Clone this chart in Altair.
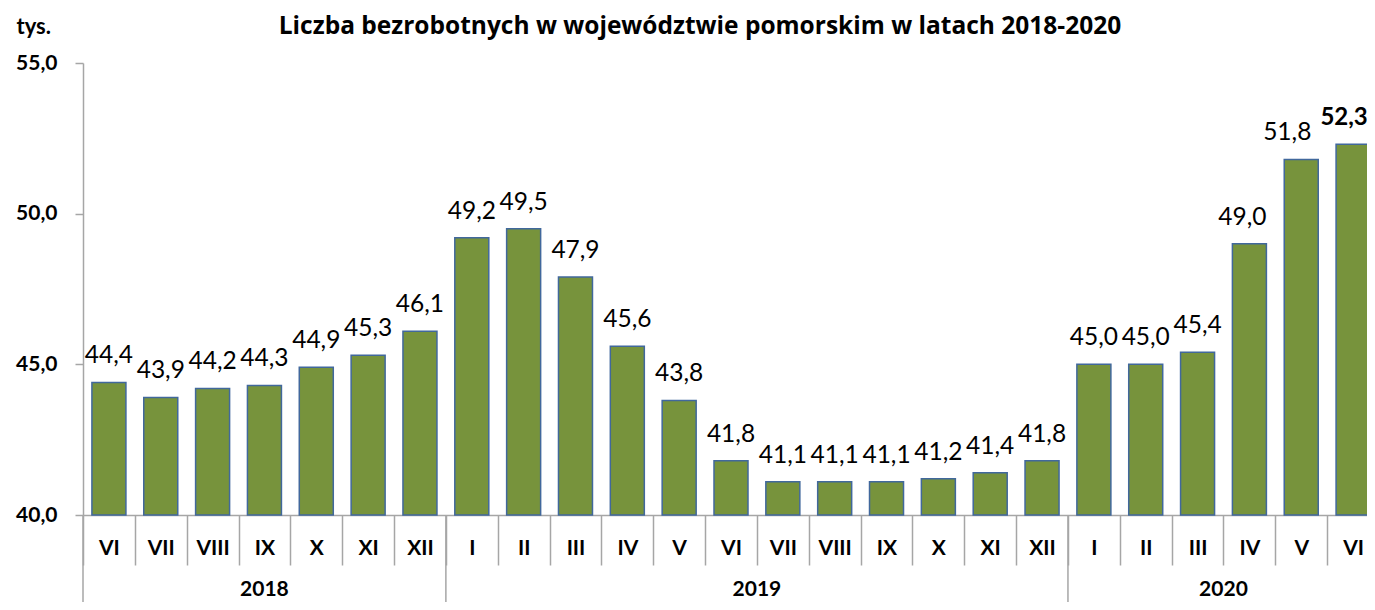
import altair as alt
import pandas as pd
import math

months = ["VI", "VII", "VIII", "IX", "X", "XI", "XII",
          "I", "II", "III", "IV", "V", "VI", "VII", "VIII", "IX", "X", "XI", "XII",
          "I", "II", "III", "IV", "V", "VI"]
years = ["2018"] * 7 + ["2019"] * 12 + ["2020"] * 6
values = [44.4, 43.9, 44.2, 44.3, 44.9, 45.3, 46.1,
          49.2, 49.5, 47.9, 45.6, 43.8, 41.8, 41.1, 41.1, 41.1, 41.2, 41.4, 41.8,
          45.0, 45.0, 45.4, 49.0, 51.8, 52.3]
y_ticks = [40, 45, 50, 55]
title_text = "Liczba bezrobotnych w województwie pomorskim w latach 2018-2020"
unit_text = "tys."

FONT = "Lato"
keys = [f"{m}-{y}" for m, y in zip(months, years)]

df = pd.DataFrame({
    "key": keys,
    "month": months,
    "year": years,
    "value": values,
    "label": [f"{v:.1f}".replace(".", ",") for v in values],
})

# year groups
year_list = []
for y in years:
    if y not in year_list:
        year_list.append(y)
yrows = []
for y in year_list:
    idx = [i for i, yy in enumerate(years) if yy == y]
    start, n = idx[0], len(idx)
    center = start + n / 2.0
    ci = int(math.floor(center))
    frac = center - ci
    yrows.append({"year": y, "first": keys[start], "center": keys[ci], "frac": frac})
ydf = pd.DataFrame(yrows)

xscale = alt.Scale(domain=keys, paddingInner=0, paddingOuter=0)
AX = "#A6A6A6"

x_enc = alt.X(
    "key:N", sort=keys, scale=xscale,
    axis=alt.Axis(
        title=None, labelExpr="split(datum.label, '-')[0]", tickBand="extent",
        tickSize=50, labelPadding=-17, labelBaseline="middle", labelAngle=0,
        labelFont=FONT, labelFontSize=21, labelFontWeight="bold", labelColor="black",
        domainColor=AX, tickColor=AX, domainWidth=1.5, tickWidth=1.5,
    ),
)
y_scale = alt.Scale(domain=[40, 55], zero=False, nice=False)
y_enc = alt.Y(
    "value:Q", scale=y_scale,
    axis=alt.Axis(
        values=y_ticks, grid=False,
        labelExpr="replace(format(datum.value, '.1f'), '.', ',')",
        tickSize=8, labelPadding=18,
        labelFont=FONT, labelFontSize=21, labelFontWeight="bold", labelColor="black",
        domainColor=AX, tickColor=AX, domainWidth=1.5, tickWidth=1.5,
        title=unit_text, titleAngle=0, titleX=-67, titleY=-37, titleAlign="left",
        titleBaseline="middle", titleFont=FONT, titleFontSize=22,
        titleFontWeight="bold", titleColor="black",
    ),
)

base = alt.Chart(df)
x_plain = alt.X("key:N", sort=keys, scale=xscale)
y_plain = alt.Y("value:Q", scale=y_scale)

bars = base.mark_bar(
    width=alt.RelativeBandSize(0.656), fill="#77933C", stroke="#41689C", strokeWidth=1.5
).encode(x=x_enc, y=y_enc, y2=alt.datum(40))

# labels that Excel nudged left near the right edge of the plot
nudged = {keys[-3]: (-7, "normal"), keys[-2]: (-14, "normal"), keys[-1]: (-9, "bold")}

labels = base.transform_filter(
    alt.FieldOneOfPredicate(field="key", oneOf=[k for k in keys if k not in nudged])
).mark_text(
    dy=-26, baseline="middle", font=FONT, fontSize=24.5, color="black"
).encode(x=x_plain, y=y_plain, text="label:N")

layers = [bars, labels]
for k, (ddx, fw) in nudged.items():
    layers.append(
        base.transform_filter(alt.datum.key == k).mark_text(
            dx=ddx, dy=-26, baseline="middle", font=FONT,
            fontSize=24.5 if fw == "normal" else 24, fontWeight=fw, color="black"
        ).encode(x=x_plain, y=y_plain, text="label:N")
    )

ybase = alt.Chart(ydf)
year_sep = ybase.mark_rule(color=AX, strokeWidth=1.5).encode(
    x=alt.X("first:N", sort=keys, scale=xscale, bandPosition=0),
    y=alt.value(452), y2=alt.value(560),
)
year_lab_half = ybase.transform_filter(alt.datum.frac > 0.25).mark_text(
    font=FONT, fontSize=21, fontWeight="bold", color="black", baseline="middle"
).encode(x=alt.X("center:N", sort=keys, scale=xscale, bandPosition=0.5),
         y=alt.value(527), text="year:N")
year_lab_zero = ybase.transform_filter(alt.datum.frac <= 0.25).mark_text(
    font=FONT, fontSize=21, fontWeight="bold", color="black", baseline="middle"
).encode(x=alt.X("center:N", sort=keys, scale=xscale, bandPosition=0),
         y=alt.value(527), text="year:N")
layers += [year_sep, year_lab_half, year_lab_zero]

chart = alt.layer(*layers).properties(
    width=1296, height=452,
    title=alt.TitleParams(title_text, anchor="middle", dx=-31, dy=24, font="Open Sans",
                          fontSize=24.5, fontWeight="bold", color="black", offset=0),
    autosize=alt.AutoSizeParams(type="none"),
    padding={"left": 75, "top": 55, "right": -12, "bottom": 87},
).configure_view(stroke=None).configure_axis(labelOverlap=False)

chart.save("out.html", embed_options={"renderer": "svg", "actions": False})
